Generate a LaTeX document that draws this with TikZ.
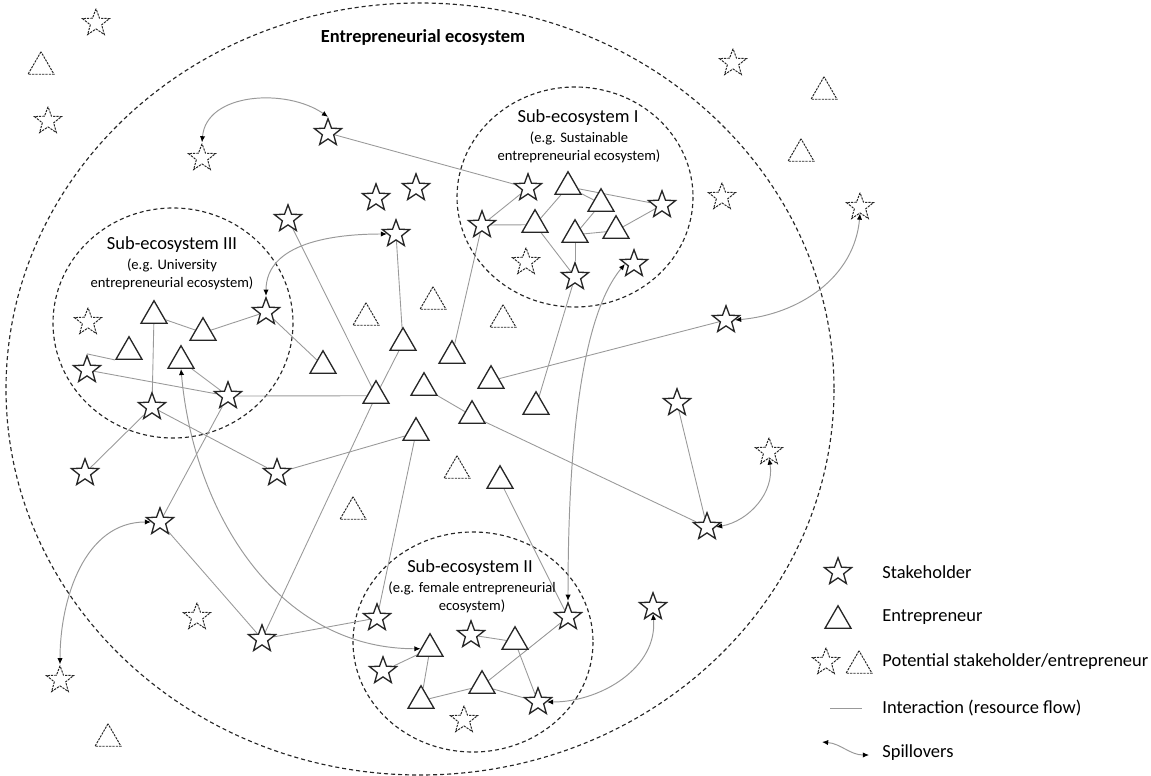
\documentclass[tikz,border=0pt]{standalone}
\usepackage{fontspec}
\setmainfont{Carlito}
\usetikzlibrary{shapes.geometric, arrows.meta, backgrounds}

\begin{document}
\begin{tikzpicture}[x=0.02cm, y=-0.02cm,
	            every node/.style={font=\fontsize{10.5}{12}\selectfont},
	            stake/.style={
	            star, star points=5, star point ratio=2.4,
	            draw=black!85, fill=white,
	            line width=0.75pt,
	            minimum size=0.57cm,
	            inner sep=0pt,
	            },
	            entre/.style={
	            regular polygon, regular polygon sides=3,
	            draw=black!85, fill=white,
	            line width=0.75pt,
	            minimum size=0.6cm,
	            inner sep=0pt,
	            yshift=-0.075cm,
	            },
	            potstake/.style={stake, line width=0.55pt, dash pattern=on 1.3pt off 0.6pt},
	            potentre/.style={entre, line width=0.55pt, dash pattern=on 1.3pt off 0.6pt},
	            flow/.style={draw=black!40, line width=0.5pt},
	            spill/.style={draw=black!40, line width=0.55pt,
	                {Latex[black,length=3.5pt,width=3pt]}-{Latex[black,length=3.5pt,width=3pt]}},
	            region/.style={draw=black!85, line width=0.65pt, dash pattern=on 2.3pt off 1.7pt},
	            subnote/.style={font=\fontsize{8.3}{10.2}\selectfont, align=center},
	            legtext/.style={anchor=west, inner sep=0pt}]

	        \useasboundingbox (0,0) rectangle (1151,776);

	        % stakeholders
	        \node[stake] (s1) at (328,133) {};
	        \node[stake] (s2) at (376,198) {};
	        \node[stake] (s3) at (416,188) {};
	        \node[stake] (s4) at (288,219) {};
	        \node[stake] (s5) at (396,234) {};
	        \node[stake] (s6) at (528,188) {};
	        \node[stake] (s7) at (482,225) {};
	        \node[stake] (s8) at (662,205) {};
	        \node[stake] (s9) at (575,277) {};
	        \node[stake] (s10) at (634,264) {};
	        \node[stake] (s11) at (726,320) {};
	        \node[stake] (s12) at (677,403) {};
	        \node[stake] (s13) at (707,527) {};
	        \node[stake] (s14) at (266,312) {};
	        \node[stake] (s15) at (87,370) {};
	        \node[stake] (s16) at (228,396) {};
	        \node[stake] (s17) at (152,407) {};
	        \node[stake] (s18) at (85,473) {};
	        \node[stake] (s19) at (277,473) {};
	        \node[stake] (s20) at (160,522) {};
	        \node[stake] (s21) at (262,639) {};
	        \node[stake] (s22) at (377,618) {};
	        \node[stake] (s23) at (568,617) {};
	        \node[stake] (s24) at (653,607) {};
	        \node[stake] (s25) at (471,635) {};
	        \node[stake] (s26) at (383,671) {};
	        \node[stake] (s27) at (538,702) {};

	        % entrepreneurs
	        \node[entre] (e1) at (568,183) {};
	        \node[entre] (e2) at (601,200) {};
	        \node[entre] (e3) at (535,221) {};
	        \node[entre] (e4) at (575,231) {};
	        \node[entre] (e5) at (616,227) {};
	        \node[entre] (e6) at (154,312) {};
	        \node[entre] (e7) at (203,329) {};
	        \node[entre] (e8) at (129,348) {};
	        \node[entre] (e9) at (181,357) {};
	        \node[entre] (e10) at (323,362) {};
	        \node[entre] (e11) at (403,339) {};
	        \node[entre] (e12) at (452,352) {};
	        \node[entre] (e13) at (376,392) {};
	        \node[entre] (e14) at (424,384) {};
	        \node[entre] (e15) at (491,377) {};
	        \node[entre] (e16) at (472,412) {};
	        \node[entre] (e17) at (536,403) {};
	        \node[entre] (e18) at (416,429) {};
	        \node[entre] (e19) at (500,477) {};
	        \node[entre] (e20) at (430,645) {};
	        \node[entre] (e21) at (515,638) {};
	        \node[entre] (e22) at (482,682) {};
	        \node[entre] (e23) at (421,697) {};

	        % potential ones
	        \node[potstake] (ps1) at (96,23) {};
	        \node[potstake] (ps2) at (48,121) {};
	        \node[potstake] (ps3) at (202,158) {};
	        \node[potstake] (ps4) at (88,322) {};
	        \node[potstake] (ps5) at (526,262) {};
	        \node[potstake] (ps6) at (733,63) {};
	        \node[potstake] (ps7) at (722,197) {};
	        \node[potstake] (ps8) at (860,207) {};
	        \node[potstake] (ps9) at (769,452) {};
	        \node[potstake] (ps10) at (197,617) {};
	        \node[potstake] (ps11) at (60,680) {};
	        \node[potstake] (ps12) at (464,720) {};
	        \node[potentre] (pe1) at (41,63) {};
	        \node[potentre] (pe2) at (824,88) {};
	        \node[potentre] (pe3) at (801,150) {};
	        \node[potentre] (pe4) at (366,314) {};
	        \node[potentre] (pe5) at (433,298) {};
	        \node[potentre] (pe6) at (503,316) {};
	        \node[potentre] (pe7) at (457,467) {};
	        \node[potentre] (pe8) at (353,508) {};
	        \node[potentre] (pe9) at (108,735) {};

	        % labels
	        \node[font=\bfseries\fontsize{10.5}{12}\selectfont] (title) at (423,37) {Entrepreneurial ecosystem};
	        \node (lab1) at (578,118) {Sub-ecosystem I};
	        \node[subnote] (note1) at (579,147) {(e.g. Sustainable\\entrepreneurial ecosystem)};
	        \node (lab3) at (172,245) {Sub-ecosystem III};
	        \node[subnote] (note3) at (172,274) {(e.g. University\\entrepreneurial ecosystem)};
	        \node (lab2) at (470,568) {Sub-ecosystem II};
	        \node[subnote] (note2) at (472,597) {(e.g. female entrepreneurial\\ecosystem)};

	        \begin{scope}[on background layer]
	        \draw[region] (420,389) ellipse [x radius=414, y radius=386];
	        \draw[region] (575,197) ellipse [x radius=118, y radius=110];
	        \draw[region] (173,323) ellipse [x radius=120, y radius=115];
	        \draw[region] (473,642) ellipse [x radius=120, y radius=110];

	        % interactions
	        \draw[flow] (s1) -- (s6);
	        \draw[flow] (s7) -- (s6);
	        \draw[flow] (s7) -- (e3);
	        \draw[flow] (s7) -- (e12);
	        \draw[flow] (e1) -- (s8);
	        \draw[flow] (e1) -- (e2);
	        \draw[flow] (e2) -- (e4);
	        \draw[flow] (e4) -- (e5);
	        \draw[flow] (e5) -- (s8);
	        \draw[flow] (e1) -- (e3);
	        \draw[flow] (e3) -- (s9);
	        \draw[flow] (e4) -- (s9);
	        \draw[flow] (s9) -- (e17);
	        \draw[flow] (s5) -- (e11);
	        \draw[flow] (s4) -- (e13);
	        \draw[flow] (e15) -- (s11);
	        \draw[flow] (e6) -- (e7);
	        \draw[flow] (e7) -- (s14);
	        \draw[flow] (s14) -- (e10);
	        \draw[flow] (e6) -- (s17);
	        \draw[flow] (e9) -- (s16);
	        \draw[flow] (s15) -- (s16);
	        \draw[flow] (s15.north) -- (e8.corner 2);
	        \draw[flow] (s16) -- (e13);
	        \draw[flow] (e13) -- (e11);
	        \draw[flow] (e13) -- (s21);
	        \draw[flow] (e14) -- (e16);
	        \draw[flow] (e16) -- (s13);
	        \draw[flow] (s12) -- (s13);
	        \draw[flow] (e18) -- (s19);
	        \draw[flow] (s19) -- (s17);
	        \draw[flow] (s17) -- (s18);
	        \draw[flow] (s16) -- (s20);
	        \draw[flow] (s20) -- (s21);
	        \draw[flow] (s21) -- (s22);
	        \draw[flow] (s22) -- (e18);
	        \draw[flow] (e19) -- (s23);
	        \draw[flow] (s26) -- (e20);
	        \draw[flow] (e20) -- (e23);
	        \draw[flow] (s25) -- (e21);
	        \draw[flow] (e23) -- (e22);
	        \draw[flow] (e22) -- (s23);
	        \draw[flow] (e22) -- (s27);
	        \draw[flow] (e21) -- (s27);
	        \end{scope}

	        % spillovers
	        \draw[spill] (ps3.north) to[out=85, in=145] (s1.north);
	        \draw[spill] (s14.north) to[out=90, in=180] (s5.west);
	        \draw[spill] (s10.west) to[out=230, in=90, out distance=1.4cm, in distance=3cm] (s23.north);
	        \draw[spill] (s11.east) to[out=5, in=-95] (ps8.south);
	        \draw[spill] (s13.east) to[out=10, in=-80] (ps9.south);
	        \draw[spill] (s20.west) to[out=180, in=90] (ps11.north);
	        \draw[spill] (e9.south) to[out=-85, in=180] (e20.west);
	        \draw[spill] (s27.east) to[out=0, in=-85] (s24.south);

	        % legend
	        \node[stake] (lgs) at (838,572) {};
	        \node[legtext] (lgstext) at (882,572) {Stakeholder};
	        \node[entre] (lge) at (838,617) {};
	        \node[legtext] (lgetext) at (882,617) {Entrepreneur};
	        \node[potstake] (lgps) at (826,662) {};
	        \node[potentre] (lgpe) at (859,662) {};
	        \node[legtext] (lgptext) at (882,662) {Potential stakeholder/entrepreneur};
	        \coordinate (lgf1) at (830,708);
	        \coordinate (lgf2) at (862,708);
	        \draw[flow] (lgf1) -- (lgf2);
	        \node[legtext] (lgftext) at (882,708) {Interaction (resource flow)};
	        \coordinate (lgsp1) at (822,742);
	        \coordinate (lgsp2) at (869,755);
	        \draw[spill] (lgsp1) to[out=-5, in=180] (lgsp2);
	        \node[legtext] (lgsptext) at (882,753) {Spillovers};

	    \end{tikzpicture}
\end{document}
